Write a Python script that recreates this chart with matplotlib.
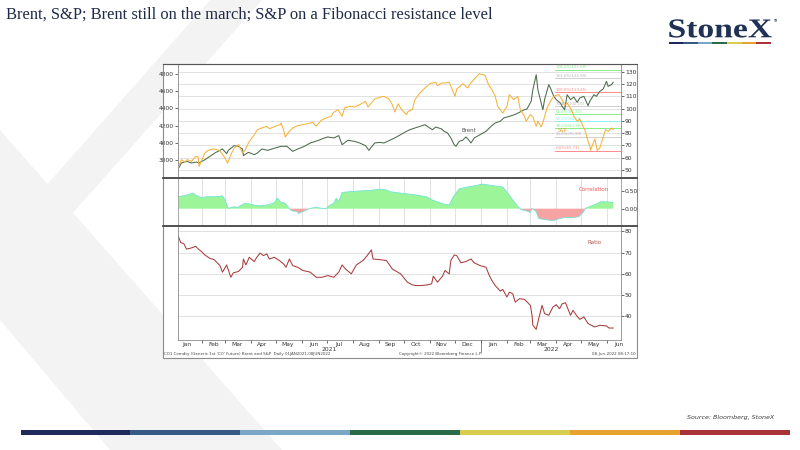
import numpy as np
import pandas as pd
import matplotlib
matplotlib.use("Agg")
import matplotlib.pyplot as plt
import matplotlib.dates as mdates
from matplotlib.patches import Polygon, Rectangle, PathPatch
from matplotlib.textpath import TextPath
from matplotlib.font_manager import FontProperties
from matplotlib.transforms import blended_transform_factory, Affine2D

# ---- data ----
sp_dates = ["2021-01-04", "2021-01-08", "2021-01-12", "2021-01-15", "2021-01-20", "2021-01-25", "2021-01-28",
            "2021-01-29", "2021-02-05", "2021-02-09", "2021-02-16", "2021-02-22", "2021-02-25", "2021-03-01",
            "2021-03-04", "2021-03-09", "2021-03-12", "2021-03-17", "2021-03-22", "2021-03-25", "2021-03-29",
            "2021-04-05", "2021-04-09", "2021-04-14", "2021-04-20", "2021-04-23", "2021-04-30", "2021-05-06",
            "2021-05-07", "2021-05-10", "2021-05-12", "2021-05-17", "2021-05-21", "2021-05-27", "2021-06-02",
            "2021-06-08", "2021-06-14", "2021-06-18", "2021-06-24", "2021-06-30", "2021-07-06", "2021-07-09",
            "2021-07-14", "2021-07-19", "2021-07-22", "2021-07-28", "2021-08-03", "2021-08-09", "2021-08-16",
            "2021-08-19", "2021-08-23", "2021-08-27", "2021-09-03", "2021-09-07", "2021-09-13", "2021-09-17",
            "2021-09-20", "2021-09-24", "2021-09-28", "2021-10-04", "2021-10-06", "2021-10-11", "2021-10-14",
            "2021-10-20", "2021-10-26", "2021-11-01", "2021-11-08", "2021-11-10", "2021-11-15", "2021-11-19",
            "2021-11-24", "2021-11-26", "2021-12-01", "2021-12-03", "2021-12-08", "2021-12-10", "2021-12-16",
            "2021-12-20", "2021-12-27", "2021-12-30", "2022-01-03", "2022-01-06", "2022-01-10", "2022-01-14",
            "2022-01-18", "2022-01-21", "2022-01-27", "2022-02-01", "2022-02-04", "2022-02-09", "2022-02-14",
            "2022-02-17", "2022-02-22", "2022-02-24", "2022-03-01", "2022-03-04", "2022-03-08", "2022-03-10",
            "2022-03-14", "2022-03-17", "2022-03-21", "2022-03-25", "2022-03-29", "2022-04-04", "2022-04-08",
            "2022-04-11", "2022-04-14", "2022-04-19", "2022-04-22", "2022-04-26", "2022-04-29", "2022-05-05",
            "2022-05-09", "2022-05-11", "2022-05-12", "2022-05-17", "2022-05-20", "2022-05-23", "2022-05-26",
            "2022-05-30", "2022-06-02", "2022-06-06", "2022-06-08"]
sp_vals = [3707, 3804, 3773, 3804, 3784, 3842, 3835, 3726, 3881, 3912, 3928, 3912, 3881, 3823,
           3765, 3881, 3939, 3978, 3881, 3912, 3998, 4094, 4153, 4172, 4191, 4164, 4191, 4211,
           4230, 4153, 4067, 4133, 4172, 4199, 4211, 4222, 4238, 4191, 4261, 4288, 4308, 4354,
           4385, 4308, 4405, 4424, 4416, 4443, 4482, 4416, 4463, 4509, 4532, 4540, 4509, 4443,
           4358, 4455, 4385, 4327, 4366, 4385, 4502, 4579, 4637, 4688, 4703, 4664, 4695, 4695,
           4703, 4657, 4540, 4626, 4664, 4688, 4637, 4695, 4773, 4804, 4792, 4781, 4676, 4618,
           4540, 4424, 4346, 4424, 4560, 4502, 4540, 4385, 4308, 4250, 4327, 4300, 4191, 4250,
           4184, 4269, 4405, 4482, 4540, 4560, 4502, 4432, 4463, 4385, 4308, 4250, 4277, 4153,
           4017, 3967, 3912, 4044, 3912, 3939, 4036, 4153, 4133, 4172, 4153]

brent_dates = ["2021-01-04", "2021-01-08", "2021-01-14", "2021-01-20", "2021-01-26", "2021-01-29", "2021-02-05",
               "2021-02-11", "2021-02-17", "2021-02-23", "2021-02-26", "2021-03-03", "2021-03-05", "2021-03-12",
               "2021-03-17", "2021-03-22", "2021-03-23", "2021-03-29", "2021-04-05", "2021-04-09", "2021-04-14",
               "2021-04-21", "2021-04-30", "2021-05-07", "2021-05-14", "2021-05-21", "2021-05-27", "2021-06-04",
               "2021-06-11", "2021-06-21", "2021-06-28", "2021-07-02", "2021-07-09", "2021-07-15", "2021-07-19",
               "2021-07-26", "2021-08-03", "2021-08-09", "2021-08-16", "2021-08-20", "2021-08-27", "2021-09-02",
               "2021-09-07", "2021-09-14", "2021-09-20", "2021-09-27", "2021-10-04", "2021-10-08", "2021-10-14",
               "2021-10-20", "2021-10-26", "2021-10-29", "2021-11-04", "2021-11-08", "2021-11-15", "2021-11-18",
               "2021-11-22", "2021-11-26", "2021-11-30", "2021-12-02", "2021-12-06", "2021-12-10", "2021-12-14",
               "2021-12-17", "2021-12-20", "2021-12-24", "2021-12-31", "2022-01-07", "2022-01-13", "2022-01-18",
               "2022-01-24", "2022-01-28", "2022-02-04", "2022-02-10", "2022-02-16", "2022-02-22", "2022-02-25",
               "2022-03-02", "2022-03-04", "2022-03-08", "2022-03-10", "2022-03-14", "2022-03-16", "2022-03-18",
               "2022-03-23", "2022-03-25", "2022-03-29", "2022-04-01", "2022-04-06", "2022-04-08", "2022-04-11",
               "2022-04-14", "2022-04-18", "2022-04-22", "2022-04-26", "2022-04-29", "2022-05-04", "2022-05-09",
               "2022-05-11", "2022-05-16", "2022-05-19", "2022-05-23", "2022-05-27", "2022-05-31", "2022-06-02",
               "2022-06-06", "2022-06-08"]
brent_vals = [50.8, 55.7, 57.1, 55.7, 56.5, 55.7, 58.4, 61.1, 63.9, 66.0, 67.1, 63.3, 66.0, 69.8,
              69.3, 67.1, 61.7, 64.4, 62.5, 63.9, 67.1, 66.0, 67.9, 69.3, 69.3, 65.2, 67.1, 69.3,
              72.0, 74.2, 76.1, 76.9, 76.1, 78.0, 70.6, 74.2, 73.3, 72.0, 69.8, 66.0, 72.0, 72.5,
              72.0, 74.2, 76.1, 78.8, 81.5, 82.8, 84.2, 85.5, 86.9, 85.5, 82.8, 85.0, 83.4, 81.5,
              80.1, 76.1, 70.6, 69.3, 73.3, 74.2, 76.9, 74.7, 72.0, 76.1, 78.8, 81.5, 85.5, 88.3,
              89.6, 92.3, 93.7, 95.0, 97.0, 99.1, 99.7, 105.9, 115.4, 127.6, 115.4, 104.5, 99.1, 107.3,
              119.5, 116.7, 110.0, 107.3, 104.5, 101.8, 99.1, 111.3, 107.3, 109.4, 105.1, 108.6, 110.0, 102.4,
              105.9, 111.3, 110.0, 114.0, 115.9, 122.2, 118.1, 119.5, 121.4]

corr_dates = ["2021-01-04", "2021-01-11", "2021-01-15", "2021-01-22", "2021-01-26", "2021-02-01", "2021-02-08",
              "2021-02-16", "2021-02-23", "2021-02-26", "2021-03-01", "2021-03-05", "2021-03-11", "2021-03-17",
              "2021-03-22", "2021-03-26", "2021-04-05", "2021-04-12", "2021-04-20", "2021-04-28", "2021-05-03",
              "2021-05-06", "2021-05-12", "2021-05-17", "2021-05-20", "2021-05-26", "2021-05-28", "2021-06-04",
              "2021-06-11", "2021-06-18", "2021-06-25", "2021-06-30", "2021-07-02", "2021-07-09", "2021-07-12",
              "2021-07-15", "2021-07-19", "2021-07-28", "2021-08-09", "2021-08-20", "2021-09-02", "2021-09-10",
              "2021-09-14", "2021-09-27", "2021-10-08", "2021-10-20", "2021-10-28", "2021-11-04", "2021-11-12",
              "2021-11-19", "2021-11-24", "2021-11-29", "2021-12-06", "2021-12-14", "2021-12-24", "2022-01-03",
              "2022-01-14", "2022-01-27", "2022-02-02", "2022-02-08", "2022-02-14", "2022-02-18", "2022-02-24",
              "2022-03-01", "2022-03-03", "2022-03-08", "2022-03-11", "2022-03-18", "2022-03-29", "2022-04-05",
              "2022-04-12", "2022-04-20", "2022-04-28", "2022-05-03", "2022-05-06", "2022-05-12", "2022-05-18",
              "2022-05-24", "2022-06-01", "2022-06-08"]
corr_vals = [0.33, 0.36, 0.38, 0.43, 0.36, 0.31, 0.33, 0.33, 0.34, 0.36, 0.24, 0.01, 0.05, 0.04,
             0.12, 0.15, 0.10, 0.08, 0.10, 0.15, 0.29, 0.19, 0.15, 0.00, -0.06, -0.08, -0.13, -0.06,
             0.01, 0.04, 0.01, 0.00, 0.06, 0.15, 0.29, 0.19, 0.45, 0.47, 0.49, 0.50, 0.54, 0.52,
             0.47, 0.43, 0.40, 0.36, 0.33, 0.24, 0.17, 0.12, 0.10, 0.33, 0.55, 0.59, 0.63, 0.68,
             0.64, 0.60, 0.43, 0.24, 0.06, -0.02, -0.06, -0.10, 0.01, -0.08, -0.27, -0.30, -0.33, -0.27,
             -0.24, -0.25, -0.22, -0.10, 0.01, 0.07, 0.12, 0.19, 0.19, 0.17]

ratio_dates = ["2021-01-04", "2021-01-07", "2021-01-11", "2021-01-14", "2021-01-18", "2021-01-22", "2021-01-25",
               "2021-01-28", "2021-02-01", "2021-02-05", "2021-02-11", "2021-02-16", "2021-02-19", "2021-02-23",
               "2021-02-26", "2021-03-03", "2021-03-08", "2021-03-11", "2021-03-17", "2021-03-22", "2021-03-23",
               "2021-03-26", "2021-03-30", "2021-04-05", "2021-04-08", "2021-04-12", "2021-04-16", "2021-04-20",
               "2021-04-23", "2021-04-29", "2021-05-05", "2021-05-10", "2021-05-13", "2021-05-17", "2021-05-21",
               "2021-05-27", "2021-06-02", "2021-06-11", "2021-06-18", "2021-06-25", "2021-07-02", "2021-07-09",
               "2021-07-15", "2021-07-19", "2021-07-23", "2021-07-30", "2021-08-05", "2021-08-13", "2021-08-18",
               "2021-08-23", "2021-08-25", "2021-09-02", "2021-09-10", "2021-09-17", "2021-09-27", "2021-10-05",
               "2021-10-11", "2021-10-15", "2021-10-21", "2021-10-29", "2021-11-03", "2021-11-05", "2021-11-10",
               "2021-11-16", "2021-11-19", "2021-11-24", "2021-11-26", "2021-11-30", "2021-12-03", "2021-12-08",
               "2021-12-14", "2021-12-20", "2021-12-24", "2021-12-31", "2022-01-07", "2022-01-11", "2022-01-14",
               "2022-01-18", "2022-01-24", "2022-01-27", "2022-02-01", "2022-02-04", "2022-02-08", "2022-02-11",
               "2022-02-16", "2022-02-22", "2022-03-01", "2022-03-03", "2022-03-04", "2022-03-08", "2022-03-11",
               "2022-03-15", "2022-03-18", "2022-03-23", "2022-03-28", "2022-04-01", "2022-04-05", "2022-04-08",
               "2022-04-12", "2022-04-18", "2022-04-21", "2022-04-25", "2022-04-29", "2022-05-04", "2022-05-09",
               "2022-05-13", "2022-05-17", "2022-05-23", "2022-05-31", "2022-06-03", "2022-06-08"]
ratio_vals = [78.0, 74.8, 74.1, 71.7, 72.0, 72.5, 73.0, 71.7, 70.5, 68.9, 67.3, 66.7, 65.5, 63.9,
              60.8, 64.2, 58.4, 60.5, 61.1, 63.1, 67.0, 64.2, 67.8, 65.8, 67.8, 69.8, 68.6, 69.4,
              67.0, 67.8, 66.3, 64.7, 63.1, 67.0, 63.9, 63.1, 61.6, 60.8, 58.4, 58.4, 59.2, 58.4,
              60.8, 64.2, 62.3, 60.0, 64.2, 66.3, 68.6, 71.3, 67.0, 66.7, 66.3, 62.3, 60.0, 56.1,
              54.8, 54.5, 54.5, 54.8, 55.3, 58.9, 56.1, 58.9, 61.6, 60.0, 66.3, 68.9, 68.6, 65.2,
              65.8, 67.0, 65.2, 63.9, 63.1, 59.2, 56.9, 54.5, 51.9, 52.7, 49.1, 51.4, 50.6, 46.7,
              48.3, 48.0, 45.2, 40.5, 35.8, 33.9, 38.9, 45.2, 41.3, 40.5, 44.4, 45.5, 43.6, 45.9,
              46.4, 40.5, 42.8, 40.5, 38.6, 39.7, 36.6, 35.8, 35.0, 35.8, 35.5, 34.5, 34.5]

# Fibonacci retracement levels (right axis)
fib_pcts = ["138.2%", "123.6%", "100.0%", "76.4%", "61.8%", "50.0%", "38.2%", "23.6%", "0.0%"]
fib_levels = [131.68, 124.99, 113.45, 102.19, 95.22, 89.59, 83.96, 76.99, 65.73]
fib_colors = ["#86f086", "#cfcfcf", "#ff8c8c", "#cfcfcf", "#86f086", "#8ff0f0", "#86f086", "#cfcfcf", "#ff8c8c"]
fib_start = "2022-03-30"

sp_ticks = [3800, 4000, 4200, 4400, 4600, 4800]
brent_ticks = [50, 60, 70, 80, 90, 100, 110, 120, 130]
corr_ticks = [0.0, 0.5]
ratio_ticks = [40, 50, 60, 70, 80]

x_start, x_end = pd.Timestamp("2021-01-03 12:00"), pd.Timestamp("2022-06-17")

W, H = 800, 450
fig = plt.figure(figsize=(8, 4.5), dpi=100)
plt.rcParams["font.family"] = ["DejaVu Sans"]


def box(l, t, r, b):
    # pixel box -> figure fraction rect
    return [l / W, 1 - b / H, (r - l) / W, (b - t) / H]


# ---- slide background ----
bg = fig.add_axes([0, 0, 1, 1], zorder=0)
bg.set_xlim(0, W)
bg.set_ylim(H, 0)
bg.axis("off")
wm = "#f3f3f3"
bg.add_patch(Polygon([(210, 0), (262, 0), (0, 295), (0, 238)], closed=True, color=wm, lw=0))
bg.add_patch(Polygon([(0, 130), (282, 450), (110, 450), (0, 320)], closed=True, color=wm, lw=0))

bar_cols = ["#1f2a5c", "#375a84", "#7ba7c7", "#2a6b4a", "#d9cd50", "#e8a22f", "#a8323a"]
bx = np.linspace(20.5, 789.7, 8)
for i, c in enumerate(bar_cols):
    bg.add_patch(Rectangle((bx[i], 429.5), bx[i + 1] - bx[i], 5.5, color=c, lw=0))
lx = np.linspace(668.5, 771, 8)
for i, c in enumerate(bar_cols):
    bg.add_patch(Rectangle((lx[i], 41.7), lx[i + 1] - lx[i], 2.6, color=c, lw=0))

# logo word, stretched to the width of the original wordmark
logo = TextPath((0, 0), "StoneX", size=10, prop=FontProperties(family="Liberation Serif", weight="bold"))
lb = logo.get_extents()
sx = (771.7 - 669.3) / lb.width
sy = 18.0 / 6.62
logo_tf = Affine2D().translate(-lb.x0, 0).scale(sx, -sy).translate(669.3, 37.3) + bg.transData
bg.add_patch(PathPatch(logo, transform=logo_tf, color="#1f3154", lw=0))
bg.text(773, 21, "TM", fontsize=2.2, color="#1f3154", va="center", ha="left")

bg.add_patch(Rectangle((163, 63.5), 474, 294.5, facecolor="white", edgecolor="none"))

fig.text(6 / W, 1 - 15 / H, "Brent, S&P; Brent still on the march; S&P on a Fibonacci resistance level",
         family="Liberation Serif", fontsize=11.9, color="#1f2a48", va="center", ha="left")
fig.text(774 / W, 1 - 417 / H, "Source: Bloomberg, StoneX", fontsize=4.6, style="italic",
         color="#404040", va="center", ha="right")

tick_col = "#333333"
grid_col = "#dcdcdc"

# ---- panel 1: S&P (left) and Brent (right) ----
ax1 = fig.add_axes(box(177.7, 64, 620.7, 177), zorder=2)
ax1r = ax1.twinx()
ax1.set_zorder(ax1r.get_zorder() + 1)
ax1.patch.set_visible(False)

sp_x = pd.to_datetime(sp_dates)
br_x = pd.to_datetime(brent_dates)

for lvl, pct, col in zip(fib_levels, fib_pcts, fib_colors):
    ax1r.plot([pd.Timestamp(fib_start), x_end], [lvl, lvl], color=col, lw=0.7, zorder=2)
    txt_col = col if col != "#cfcfcf" else "#b4b4b4"
    ax1r.text(pd.Timestamp(fib_start) + pd.Timedelta(days=1), lvl + 0.3, f"{pct}({lvl:.2f})",
              fontsize=2.8, color=txt_col, ha="left", va="bottom", zorder=3)

ax1r.plot(br_x, brent_vals, color="#4b6b4b", lw=0.75, zorder=4)
ax1.plot(sp_x, sp_vals, color="#f5b23a", lw=0.75)
ax1r.text(pd.Timestamp("2021-12-18"), 82, "Brent", fontsize=4.0, color="#555555", ha="center", va="center")
ax1r.text(pd.Timestamp("2022-04-09"), 82.3, "S&P", fontsize=3.4, color="#e6a030", ha="center", va="center")

ax1.set_xlim(x_start, x_end)
ax1.set_ylim(3602, 4916)
ax1r.set_ylim(44.3, 136.3)
ax1.set_yticks(sp_ticks)
ax1r.set_yticks(brent_ticks)
ax1r.grid(axis="y", color=grid_col, lw=0.6)
ax1r.set_axisbelow(True)
ax1.tick_params(axis="y", labelsize=4.3, length=2, width=0.5, colors=tick_col, pad=1)
ax1r.tick_params(axis="y", labelsize=4.3, length=2, width=0.5, colors=tick_col, pad=1)
ax1.set_xticks([])
for a in (ax1, ax1r):
    for s in ("top", "bottom"):
        a.spines[s].set_visible(False)
    a.spines["left"].set_color("#9a9a9a")
    a.spines["right"].set_color("#9a9a9a")
    a.spines["left"].set_linewidth(0.6)
    a.spines["right"].set_linewidth(0.6)

# ---- panel 2: correlation ----
ax2 = fig.add_axes(box(177.7, 179, 620.7, 225), zorder=2)
cx = mdates.date2num(pd.to_datetime(corr_dates))
cv = np.array(corr_vals)
ax2.fill_between(cx, cv, 0, where=cv >= 0, interpolate=True, color="#9df59a", lw=0)
ax2.fill_between(cx, cv, 0, where=cv < 0, interpolate=True, color="#f5a3a3", lw=0)
ax2.plot(cx, cv, color="#72e2d8", lw=0.6)
ax2.set_xlim(x_start, x_end)
ax2.set_ylim(-0.45, 0.82)
ax2.yaxis.tick_right()
ax2.set_yticks(corr_ticks)
ax2.set_yticklabels([f"{v:.2f}" for v in corr_ticks])
ax2.tick_params(axis="y", labelsize=4.3, length=2, width=0.5, colors=tick_col, pad=1)
ax2.xaxis.set_major_locator(mdates.MonthLocator())
ax2.tick_params(axis="x", length=0, labelbottom=False)
ax2.grid(axis="x", color=grid_col, lw=0.6)
ax2.set_axisbelow(True)
ax2.text(0.94, 0.78, "Correlation", transform=ax2.transAxes, fontsize=4.0, color="#f05a5a",
         ha="center", va="center")
for s in ("top", "bottom"):
    ax2.spines[s].set_visible(False)
for s in ("left", "right"):
    ax2.spines[s].set_color("#9a9a9a")
    ax2.spines[s].set_linewidth(0.6)

# ---- panel 3: ratio ----
ax3 = fig.add_axes(box(177.7, 226.5, 620.7, 339.5), zorder=2)
ax3.plot(pd.to_datetime(ratio_dates), ratio_vals, color="#a83c3c", lw=0.75)
ax3.set_xlim(x_start, x_end)
ax3.set_ylim(29.1, 82.3)
ax3.yaxis.tick_right()
ax3.set_yticks(ratio_ticks)
ax3.tick_params(axis="y", labelsize=4.3, length=2, width=0.5, colors=tick_col, pad=1)
ax3.grid(axis="y", color=grid_col, lw=0.6)
ax3.set_axisbelow(True)
ax3.xaxis.set_major_locator(mdates.MonthLocator())
ax3.xaxis.set_major_formatter(plt.NullFormatter())
ax3.xaxis.set_minor_locator(mdates.MonthLocator(bymonthday=15))
ax3.xaxis.set_minor_formatter(mdates.DateFormatter("%b"))
ax3.tick_params(axis="x", which="major", length=2, width=0.5, colors=tick_col)
ax3.tick_params(axis="x", which="minor", length=0, labelsize=4.3, colors=tick_col, pad=1.5)
ax3.text(0.94, 0.86, "Ratio", transform=ax3.transAxes, fontsize=4.0, color="#b5574a",
         ha="center", va="center")
ax3.spines["top"].set_visible(False)
for s in ("left", "right", "bottom"):
    ax3.spines[s].set_color("#8a8a8a")
    ax3.spines[s].set_linewidth(0.6)

# year labels and separator under the month labels
yt = blended_transform_factory(ax3.transData, ax3.transAxes)
y22 = pd.Timestamp("2022-01-01")
ax3.plot([y22, y22], [0, -0.115], transform=yt, color="#555555", lw=0.5, clip_on=False)
ax3.text(x_start + (y22 - x_start) / 2, -0.085, "2021", transform=yt, fontsize=4.3, color=tick_col,
         ha="center", va="center")
ax3.text(y22 + (x_end - y22) / 2, -0.085, "2022", transform=yt, fontsize=4.3, color=tick_col,
         ha="center", va="center")

# ---- overlay: frame, panel separators, footer ----
ov = fig.add_axes([0, 0, 1, 1], zorder=5)
ov.set_xlim(0, W)
ov.set_ylim(H, 0)
ov.axis("off")
ov.patch.set_visible(False)
ov.add_patch(Rectangle((163, 63.5), 474, 294.5, facecolor="none", edgecolor="#8c8c8c", lw=0.8))
ov.plot([163, 637], [178, 178], color="#333333", lw=1.2)
ov.plot([163, 637], [225.8, 225.8], color="#333333", lw=1.2)
ov.plot([163, 637], [63.8, 63.8], color="#555555", lw=0.8)

fig.text(164 / W, 1 - 354.5 / H, "CO1 Comdty (Generic 1st 'CO' Future) Brent and S&P  Daily 01JAN2021-08JUN2022",
         fontsize=2.9, color="#444444", ha="left", va="center")
fig.text(440 / W, 1 - 354.5 / H, "Copyright\u00a9 2022 Bloomberg Finance L.P.", fontsize=2.9, color="#444444",
         ha="center", va="center")
fig.text(636 / W, 1 - 354.5 / H, "08-Jun-2022 08:17:10", fontsize=2.9, color="#444444", ha="right", va="center")

fig.savefig("out.png", dpi=100)
